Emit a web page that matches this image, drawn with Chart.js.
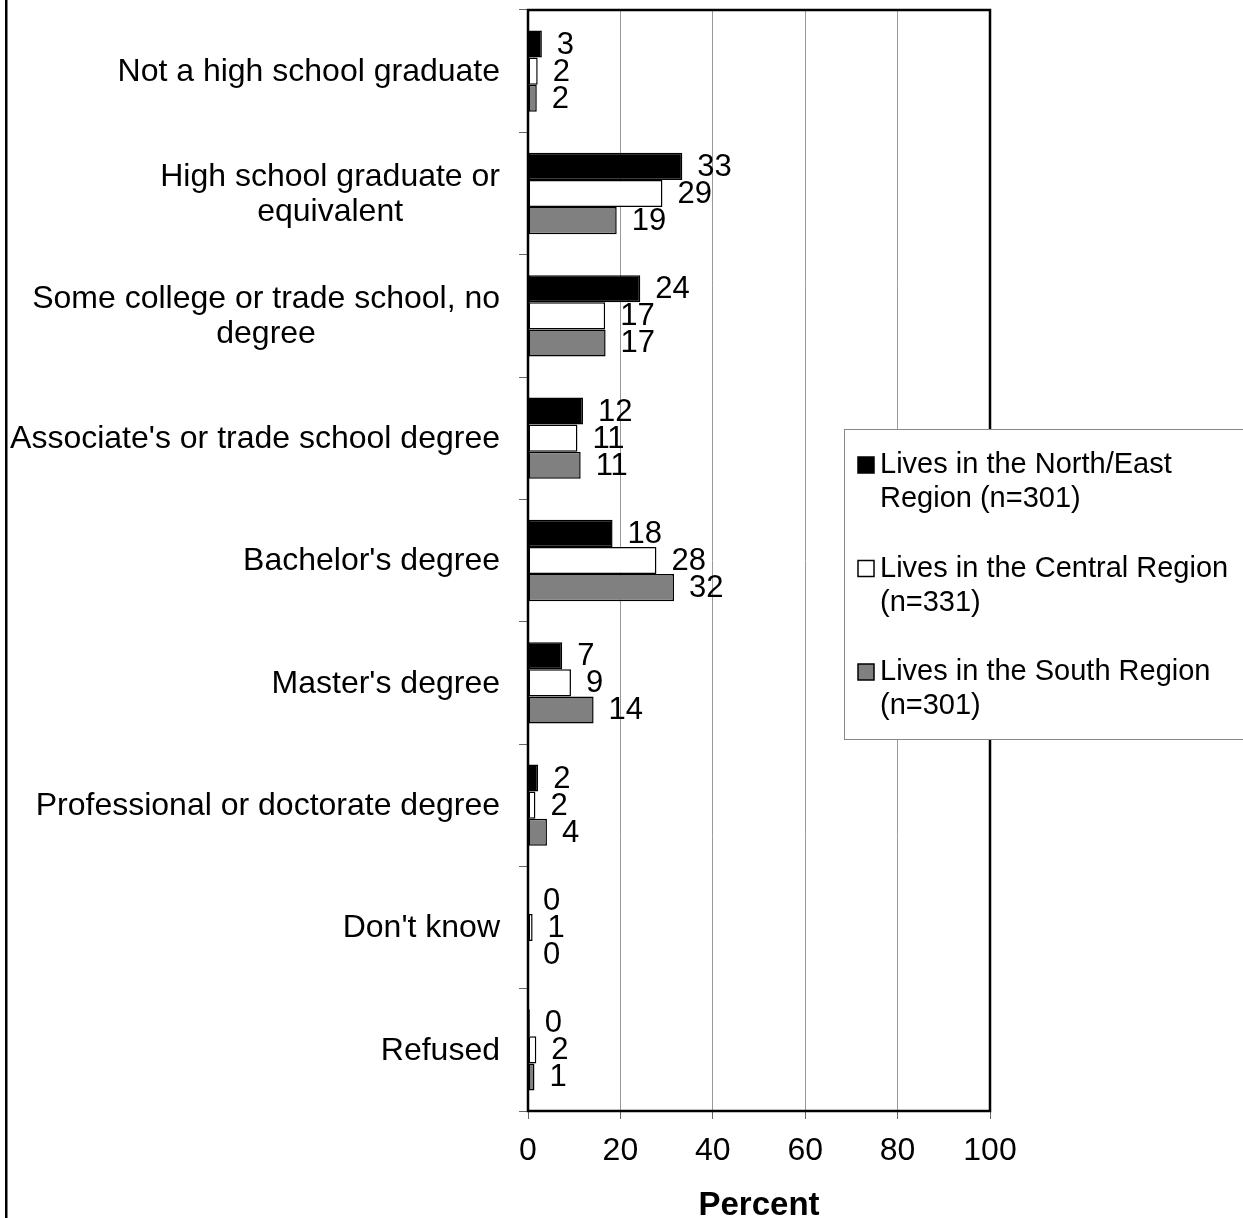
<!DOCTYPE html>
<html>
<head>
<meta charset="utf-8">
<script src="https://cdn.jsdelivr.net/npm/chart.js@4.4.1/dist/chart.umd.min.js"></script>
<style>
  html, body { margin: 0; padding: 0; background: #fff; }
  #wrap { width: 1243px; height: 1218px; position: relative; }
</style>
</head>
<body>
<div id="wrap"><canvas id="eduChart" width="1243" height="1218"></canvas></div>
<script>
// Education level categories (lines as broken in the original)
const categories = [
    ['Not a high school graduate'],
    ['High school graduate or', 'equivalent'],
    ['Some college or trade school, no', 'degree'],
    ["Associate's or trade school degree"],
    ["Bachelor's degree"],
    ["Master's degree"],
    ['Professional or doctorate degree'],
    ["Don't know"],
    ['Refused']
];

// Percent values per region
const northEast = [3.0, 33.4, 24.3, 11.9, 18.3, 7.4, 2.2, 0, 0.4];
const central   = [2.1, 29.1, 16.7, 10.7, 27.8, 9.3, 1.6, 1.0, 1.8];
const south     = [1.9, 19.2, 16.8, 11.4, 31.6, 14.2, 4.1, 0, 1.4];

const seriesNames = [
    ['Lives in the North/East', 'Region (n=301)'],
    ['Lives in the Central Region', '(n=331)'],
    ['Lives in the South Region', '(n=301)']
];

const xTicks = [0, 20, 40, 60, 80, 100];

const FONT = '"Liberation Sans", Arial, Helvetica, sans-serif';

// Rounded value labels at the end of each bar
const valueLabels = {
    id: 'valueLabels',
    afterDatasetsDraw(chart) {
        const ctx = chart.ctx;
        ctx.save();
        ctx.font = '31px ' + FONT;
        ctx.fillStyle = '#000';
        ctx.textAlign = 'left';
        ctx.textBaseline = 'middle';
        chart.data.datasets.forEach((ds, di) => {
            chart.getDatasetMeta(di).data.forEach((bar, i) => {
                ctx.fillText(String(Math.round(ds.data[i])), bar.x + 15, bar.y + 1);
            });
        });
        ctx.restore();
    }
};

// Plot frame, outer chart border, category labels and legend
const frame = {
    id: 'frame',
    afterDatasetsDraw(chart) {
        const { ctx, chartArea: a } = chart;
        ctx.save();
        ctx.strokeStyle = '#000';
        ctx.lineWidth = 2.5;
        ctx.strokeRect(a.left, a.top, a.right - a.left, a.bottom - a.top);
        ctx.fillStyle = '#000';
        ctx.fillRect(5, 0, 2.5, chart.height);
        ctx.restore();
    },
    afterDraw(chart) {
        const ctx = chart.ctx;
        const yScale = chart.scales.y;
        ctx.save();
        // category labels: block right aligned, lines centred inside it
        ctx.font = '32px ' + FONT;
        ctx.fillStyle = '#000';
        ctx.textAlign = 'center';
        ctx.textBaseline = 'middle';
        const rightEdge = 500;
        categories.forEach((lines, i) => {
            const cy = yScale.getPixelForValue(i);
            const w = Math.max(...lines.map(l => ctx.measureText(l).width));
            lines.forEach((l, j) => {
                ctx.fillText(l, rightEdge - w / 2, cy + (j - (lines.length - 1) / 2) * 35 + 1);
            });
        });

        // legend
        const lx = 844, ly = 429, lw = 420, lh = 310;
        ctx.fillStyle = '#fff';
        ctx.fillRect(lx, ly, lw, lh);
        ctx.strokeStyle = '#888';
        ctx.lineWidth = 1;
        ctx.strokeRect(lx + 0.5, ly + 0.5, lw, lh);
        ctx.font = '29px ' + FONT;
        ctx.textAlign = 'left';
        chart.data.datasets.forEach((ds, i) => {
            const y0 = 465 + i * 103.5;
            ctx.fillStyle = ds.backgroundColor;
            ctx.fillRect(858, y0 - 8, 16, 16);
            ctx.strokeStyle = '#000';
            ctx.lineWidth = 1.5;
            ctx.strokeRect(858, y0 - 8, 16, 16);
            ctx.fillStyle = '#000';
            ds.legendLines.forEach((l, j) => ctx.fillText(l, 880, y0 + j * 34));
        });
        ctx.restore();
    }
};

const barStyle = { borderColor: '#000', borderWidth: 1.5, borderSkipped: false,
                   barPercentage: 1.0, categoryPercentage: 0.665 };

new Chart(document.getElementById('eduChart').getContext('2d'), {
    type: 'bar',
    data: {
        labels: categories,
        datasets: [
            { label: seriesNames[0].join(' '), legendLines: seriesNames[0], data: northEast, backgroundColor: '#000000', ...barStyle },
            { label: seriesNames[1].join(' '), legendLines: seriesNames[1], data: central, backgroundColor: '#ffffff', ...barStyle },
            { label: seriesNames[2].join(' '), legendLines: seriesNames[2], data: south, backgroundColor: '#808080', ...barStyle }
        ]
    },
    options: {
        indexAxis: 'y',
        responsive: false,
        animation: false,
        events: [],
        layout: { padding: { top: 10, right: 253, bottom: 0, left: 0 } },
        scales: {
            x: {
                min: xTicks[0],
                max: xTicks[xTicks.length - 1],
                afterBuildTicks: s => { s.ticks = xTicks.map(v => ({ value: v })); },
                afterFit: s => { s.height = 107; },
                ticks: { color: '#000', padding: 16, font: { family: FONT, size: 32, lineHeight: 1 } },
                grid: { color: '#999', lineWidth: 1, tickLength: 8, tickColor: '#666' },
                border: { display: false },
                title: {
                    display: true, text: 'Percent', color: '#000',
                    font: { family: FONT, size: 33, weight: 'bold', lineHeight: 0.75 },
                    padding: { top: 0, bottom: 0 }
                }
            },
            y: {
                afterFit: s => { s.width = 528; },
                ticks: { display: false },
                grid: { offset: true, drawOnChartArea: false, tickLength: 9, tickColor: '#666' },
                border: { display: false }
            }
        },
        plugins: {
            legend: { display: false },
            tooltip: { enabled: false }
        }
    },
    plugins: [valueLabels, frame]
});
</script>
</body>
</html>
